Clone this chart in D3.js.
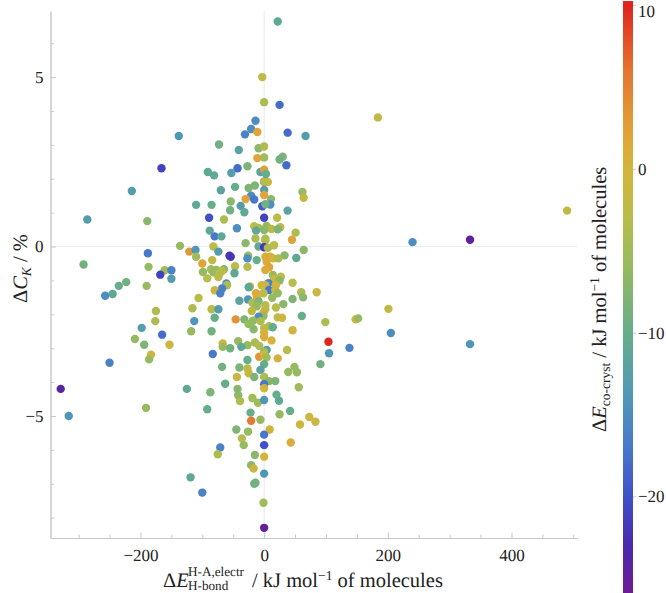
<!DOCTYPE html>
<html>
<head>
<meta charset="utf-8">
<script src="https://cdn.jsdelivr.net/npm/d3@7"></script>
<style>
  html, body { margin: 0; padding: 0; background: #fff; }
  svg { display: block; }
  text { font-family: "Liberation Serif", serif; fill: #222; text-rendering: geometricPrecision; }
</style>
</head>
<body>
<div id="chart"></div>
<script>
// Data, same order in the three lists
var hBondEnergy = [
  22, -3, 0, 25, -14, -21, -31, -11, 38, -138,
  67, -73, -41, -9, 0, -11, 0, 30, 25, 36,
  -166, -43, -27, -91, -81, -53, -6, 0, 3, 0,
  6, 0, -214, -70, -47, -25, -15, 0, 62, 64,
  0, -21, -30, -16, 11, -54, -110, -85, -38, -3,
  10, 2, -55, -32, 38, -89, 0, -65, 21, -286,
  -189, -16, 4, -9, 26, 12, 22, -44, -13, 0,
  -88, 51, -80, -69, -14, 2, 45, -30, 2, 16,
  -9, 0, 6, -136, -82, -121, -111, -74, -188, -56,
  -54, 64, 33, 52, -292, -187, -161, -150, -168, -150,
  -223, -235, -190, -245, -257, -175, -176, -198, -165, -209,
  -194, -153, -183, -186, -250, -329, -125, -87, -191, -92,
  -316, -45, -110, -84, -100, -47, -99, -86, -77, -65,
  -82, -68, -72, -48, -92, -74, -61, -60, -68, -80,
  -71, -40, -106, -116, -85, -74, -80, -113, -46, -118,
  -85, -67, -67, -55, -42, -83, -68, -40, -44, -63,
  -43, -42, -39, -26, -27, -12, -27, 2, 10, 15,
  23, 4, 8, 2, 14, 27, 16, 25, 46, 7,
  19, 2, -4, -23, -25, 8, 18, -13, -1, 22,
  60, 85, -12, 63, 13, -26, 46, -19, -9, 31,
  2, 19, -12, 2, -20, -1, 201, 61, 99, 22,
  29, -1, -9, -32, 148, 152, -18, -6, -25, 8,
  0, 14, -17, 46, 0, 205, 0, 12, 104, -15,
  -27, -8, -37, 4, 37, 138, 105, 0, -8, 0,
  22, 4, -27, 0, 91, -27, -6, 49, 39, 53,
  -25, -16, 0, 8, 18, 0, 56, 0, -19, -10,
  0, 20, 24, -22, 25, 42, 73, 83, -21, -6,
  58, -26, 9, 0, -36, -33, 0, 43, -71, -75,
  -15, 0, -21, -17, 0, -14, -16, -100, -1, 0,
  -119, 184, 490, 240, 333, 333
];

var deltaCk = [
  6.64, 5.0, 4.26, 4.18, 3.71, 3.47, 3.31, 3.38, 3.36, 3.26,
  3.26, 3.01, 2.85, 2.9, 2.95, 2.61, 2.63, 2.65, 2.57, 2.4,
  2.31, 2.31, 2.37, 2.2, 2.1, 2.17, 2.2, 2.27, 2.14, 1.91,
  1.9, 1.91, 1.64, 1.66, 1.76, 1.73, 1.8, 1.67, 1.61, 1.44,
  1.52, 1.5, 1.4, 1.39, 1.4, 1.33, 1.23, 1.23, 1.2, 1.19,
  1.24, 1.25, 1.07, 1.01, 1.06, 0.85, 0.85, 0.8, 0.85, 0.8,
  0.75, 0.6, 0.61, 0.55, 0.57, 0.52, 0.51, 0.54, 0.47, 0.49,
  0.47, 0.41, 0.3, 0.3, 0.24, 0.23, 0.2, 0.1, 0.18, 0.04,
  0, -0.02, -0.04, 0.02, 0, -0.15, -0.1, -0.15, -0.2, -0.27,
  -0.3, -0.1, -0.26, -0.34, -0.53, -0.6, -0.7, -0.7, -0.83, -0.95,
  -1.05, -1.16, -1.16, -1.4, -1.45, -1.9, -2.2, -2.4, -2.6, -2.73,
  -2.9, -2.9, -3.19, -3.33, -3.43, -4.2, -4.2, -4.3, -4.76, -4.8,
  -5, -5.4, -0.3, -0.4, -0.5, -0.58, -0.75, -0.67, -0.69, -0.67,
  -0.76, -0.72, -0.79, -0.79, -0.94, -0.9, -1.09, -1.14, -1.24, -1.29,
  -1.38, -1.6, -1.52, -1.82, -1.85, -1.85, -2.1, -2.2, -2.15, -2.5,
  -2.5, -2.86, -2.96, -3, -2.79, -3.17, -3.55, -3.57, -3.85, -4.05,
  -4.2, -4.39, -4.56, -0.27, -0.35, -0.4, -0.6, -0.3, -0.3, -0.35,
  -0.35, -0.45, -0.61, -0.69, -0.84, -0.89, -0.96, -1, -1.07, -1.08,
  -1.14, -1.14, -1.14, -1.18, -1.2, -1.28, -1.28, -1.38, -1.38, -1.38,
  -1.35, -1.35, -1.48, -1.5, -1.51, -1.56, -1.55, -1.66, -1.61, -1.7,
  -1.73, -1.8, -1.76, -1.85, -1.9, -1.95, -1.84, -2.05, -2.23, -2.09,
  -2.1, -2.05, -2.07, -2.15, -2.15, -2.12, -2.19, -2.2, -2.29, -2.35,
  -2.41, -2.38, -2.44, -2.47, -2.54, -2.55, -2.67, -2.77, -2.81, -2.83,
  -2.91, -2.93, -2.96, -3.05, -3.05, -2.99, -3.15, -3.1, -3.25, -3.2,
  -3.3, -3.27, -3.35, -3.47, -3.47, -3.6, -3.64, -3.55, -3.7, -3.71,
  -3.74, -3.85, -3.85, -3.97, -3.97, -4.06, -4.15, -4.18, -4.47, -4.61,
  -4.53, -4.37, -4.55, -4.9, -4.95, -4.85, -5.03, -5.17, -5.14, -5.11,
  -5.25, -5.46, -5.4, -5.55, -5.66, -5.86, -5.86, -5.78, -5.93, -6.13,
  -6.15, -6.2, -6.45, -6.55, -6.7, -6.97, -7, -7.26, -7.56, -8.3,
  -6.81, 3.81, 1.06, 0.13, 0.2, -2.88
];

var cocrystEnergy = [
  -11, -2, -4, -18, -15, -15, -16, 2, -18, -14,
  -13, -9, -12, -7, -4, 2, -5, -8, -9, -18,
  -21, -18, -8, -11, -11, -13, -12, 2.5, -10, -22,
  -1, -3, -13, -12, -10, -8, -8, -13, -6, -2,
  2, -15, 2, -17, -7, -7, -11, -10, -13, -19,
  -15, -9, -9, -11, -12, -20, -21, -4, -3, -13,
  -7, -3, -6, -4, -2, -2, -8, -15, -11, -7,
  -11, -4, -17, -11, -4, -4, 2, -7, -4, -3,
  -11, -22, -4, -6, -3, 3, -14, -13, -17, -22,
  -22, -7, -7, -11, -9, -6, -5, -16, -21, -13,
  -9, -10, -6, -11, -15, -4, -4, -13, -18, -6,
  -8, -1, -1, -6, -16, -24, -11, -8, -6, -10,
  -14, -8, -5, -2, 2, -3, -6, -5, -6, -7,
  -6, -3, -3, -11, -3, -3, -15, -4, -16, -1,
  -16, -12, -3, -4, -3, -13, -10, -14, 3.5, -6,
  -9, -0.5, -6, -9, -6, -17, -9, -8, -1, -10,
  -7, -7, -4, -6, -15, -10, -3, 1, 1, 0,
  -4, 1.5, 2, 1, -6, -3, -0.5, -7, -3, -16,
  0, -2, 0, -2, -11, -17, -1, 1.5, -3, -6,
  -4, -1, 1, -7, -6, -14, -8, -4, -8, -7,
  -3, -3, -6, -3, -2, 1, -2, -10, -4, -2,
  -1, -6, -15, -8, 0, -6, -6, -4, -6, -4,
  -3, -10, -7, -0.5, 0, -15, 1, 0, 10, -4,
  -6, -4, -11, -13, -3, -16, -14, -5, 3, 0,
  0.5, -5, -10, -10, -9, -3, -12, -6, -6, -6,
  -1, -8, -4, -7, -8, -17, -5, 0, -5, -5,
  -14, -10, -11, -10, -6, -10, -0.5, -1, 5.5, -6,
  -1, -6, -0.5, -17, -3, -6, -20, 1, -16, -4,
  -7, 0, -7, -1, -14, -9, -9, -16, -5, -25,
  -11, -2, -2, -15, -25, -14
];

var xTicks = [-200, 0, 200, 400];
var xMinorTicks = [-300, -250, -150, -100, -50, 50, 100, 150, 250, 300, 350, 450, 500];
var yTicks = [-5, 0, 5];
var yMinorTicks = [-8, -7, -6, -4, -3, -2, -1, 1, 2, 3, 4, 6];
var colorTicks = [-20, -10, 0, 10];
var colorStops = [-26, -23, -20, -17, -14, -10, -6, -3, 0, 2, 6, 10];
var colorValues = ["#6e1a96", "#4a2aae", "#3f50c8", "#4878cc", "#4f97b8", "#66ad8a",
                   "#96ba60", "#b8bc4a", "#d3b43c", "#e0a53a", "#e5752f", "#e0241f"];

var width = 666;
var height = 593;
var axisGrey = "#c9c9c9";
var serif = '"Liberation Serif", "Times New Roman", serif';

var svg = d3.select("#chart").append("svg")
  .attr("width", width)
  .attr("height", height);

// Scales
var x = d3.scaleLinear().domain([-345.5, 506]).range([50.5, 577]);
var y = d3.scaleLinear().domain([-8.6, 6.95]).range([538, 11]);
var color = d3.scaleLinear().domain(colorStops).range(colorValues).clamp(true);
var colorY = d3.scaleLinear().domain([-25.9, 10.25]).range([593, 1]);

function tickLabel(d) {
  return d3.format("d")(d).replace("-", "\u2212\u2009");
}

// Lines through zero
svg.append("line")
  .attr("x1", x(0)).attr("x2", x(0))
  .attr("y1", 11).attr("y2", 538)
  .attr("stroke", "#e8e8e8");
svg.append("line")
  .attr("x1", 50.5).attr("x2", 577)
  .attr("y1", y(0)).attr("y2", y(0))
  .attr("stroke", "#eceef2");

function styleAxis(g) {
  g.attr("font-family", serif);
  g.selectAll("path, line").attr("stroke", axisGrey);
  g.selectAll("text").style("font-family", serif).attr("font-size", 17).attr("fill", "#222");
}

// Axes
var bottom = svg.append("g").attr("transform", "translate(0,538)");
bottom.append("g")
  .call(d3.axisBottom(x).tickValues(xMinorTicks).tickSize(-3.5).tickSizeOuter(0).tickFormat(""))
  .call(styleAxis);
bottom.append("g")
  .call(d3.axisBottom(x).tickValues(xTicks).tickSize(-5.5).tickSizeOuter(0).tickPadding(11).tickFormat(tickLabel))
  .call(styleAxis);

var left = svg.append("g").attr("transform", "translate(50.5,0)");
left.append("g")
  .call(d3.axisLeft(y).tickValues(yMinorTicks).tickSize(-3.5).tickSizeOuter(0).tickFormat(""))
  .call(styleAxis);
left.append("g")
  .call(d3.axisLeft(y).tickValues(yTicks).tickSize(-5.5).tickSizeOuter(0).tickPadding(7).tickFormat(tickLabel))
  .call(styleAxis);

// Points
svg.append("g").selectAll("circle")
  .data(hBondEnergy)
  .enter().append("circle")
  .attr("cx", function(d) { return x(d); })
  .attr("cy", function(d, i) { return y(deltaCk[i]); })
  .attr("r", 4.2)
  .attr("fill", function(d, i) { return color(cocrystEnergy[i]); });

// Colour bar
var gradient = svg.append("defs").append("linearGradient")
  .attr("id", "bar-gradient")
  .attr("x1", 0).attr("x2", 0).attr("y1", 1).attr("y2", 0);
gradient.selectAll("stop")
  .data(colorStops)
  .enter().append("stop")
  .attr("offset", function(d) { return (colorY(d) - 593) / (1 - 593); })
  .attr("stop-color", function(d) { return color(d); });

svg.append("rect")
  .attr("x", 623).attr("width", 10)
  .attr("y", 1).attr("height", 592)
  .attr("fill", "url(#bar-gradient)");

var colorAxis = svg.append("g")
  .attr("transform", "translate(633,0)")
  .call(d3.axisRight(colorY).tickValues(colorTicks).tickSize(3).tickSizeOuter(0).tickPadding(2).tickFormat(tickLabel))
  .call(styleAxis)
  .call(function(g) { g.select(".domain").remove(); });
// the top label would stick out of the page
colorAxis.selectAll("text").filter(function(d) { return d === 10; }).attr("dy", "0.62em").attr("transform", "translate(0,1)");

// x axis title, the sub and superscript stack sits in its own text elements
var xTitle = svg.append("g");
xTitle.append("text").attr("x", 163).attr("y", 587).attr("font-size", 20.5)
  .html('\u0394<tspan font-style="italic">E</tspan>');
xTitle.append("text").attr("x", 188).attr("y", 576).attr("font-size", 13.2).text("H-A,electr");
xTitle.append("text").attr("x", 188).attr("y", 590.3).attr("font-size", 13.2).text("H-bond");
xTitle.append("text").attr("x", 252).attr("y", 587).attr("font-size", 20.5)
  .html('/ kJ mol<tspan font-size="13.5" dy="-7">\u22121</tspan><tspan dy="7"> of molecules</tspan>');

// y axis title
svg.append("text")
  .attr("transform", "translate(27,303) rotate(-90)")
  .attr("font-size", 20.5)
  .html('\u0394<tspan font-style="italic">C</tspan><tspan font-size="13.5" font-style="italic" dy="4">K</tspan><tspan dy="-4"> / %</tspan>');

// colour bar title
svg.append("text")
  .attr("transform", "translate(606,432) rotate(-90)")
  .attr("font-size", 20.5)
  .html('\u0394<tspan font-style="italic">E</tspan><tspan font-size="13.5" dy="4">co-cryst</tspan><tspan dy="-4"> / kJ mol</tspan><tspan font-size="13.5" dy="-7">\u22121</tspan><tspan dy="7"> of molecules</tspan>');
</script>
</body>
</html>
